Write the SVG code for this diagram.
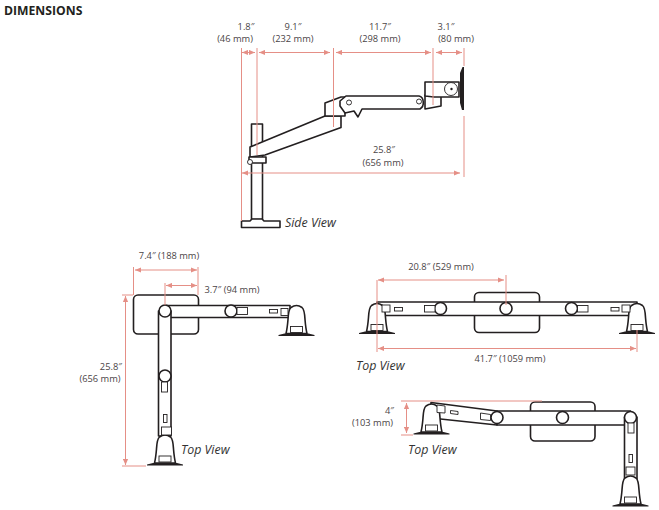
<svg xmlns="http://www.w3.org/2000/svg" xmlns:xlink="http://www.w3.org/1999/xlink" width="659" height="510" viewBox="0 0 659 510">
<style>
text{font-family:"Open Sans","Noto Sans","Liberation Sans",sans-serif;font-size:9.3px;fill:#4a4446;text-anchor:middle}
.v{font-size:12.4px;font-style:italic;fill:#333;text-anchor:start}
.e{text-anchor:end}
.a{fill:#fff;stroke:#231f20;stroke-width:1.6;stroke-linejoin:round}
.t{fill:#fff;stroke:#231f20;stroke-width:.9}
.k{fill:#231f20;stroke:none}
.d line{stroke:#e58f86;stroke-width:1}
.d .r{marker-start:url(#h);marker-end:url(#h)}
</style>
<defs>
<marker id="h" markerUnits="userSpaceOnUse" markerWidth="7" markerHeight="6" refX="6" refY="3" orient="auto-start-reverse"><path d="M0 0.4L6 3L0 5.6z" fill="#e58f86"/></marker>
<g id="clamp">
<path class="a" d="M-10.500-1C-9.500-5-9-9-8.500-15C-8.200-20-8-25-5.500-27C-2-29.500 2-29.500 5.500-27C8-25 8.200-20 8.500-15C9-9 9.500-5 10.500-1z" stroke-width="2"/>
<rect class="t" x="-6" y="-8" width="12" height="6"/>
<path class="k" d="M-18 1.500V0.500L-12-1H12L18 0.500V1.500z"/>
</g>
</defs>
<text x="4" y="15" style="font-weight:700;font-size:12.200px;fill:#231f20;text-anchor:start">DIMENSIONS</text>

<g id="side-view">
<rect class="a" x="251.500" y="124" width="11" height="95.500"/>
<path class="a" d="M241.500 227.500V221H250L252 219H262L264 221H280V227.500z"/>
<path class="a" d="M250 147L325 116H341V127.500L265 155L250 157z"/>
<path class="a" d="M249 157H266V163H249z"/>
<circle class="t" cx="250" cy="162" r="2.500"/>
<path class="a" d="M325 116V103L341 97H345V116z"/>
<path class="a" d="M346 96H419C424 97 425 106 420 109H362L358 117L354 111L345 113L340 106V101z"/>
<circle class="t" cx="349" cy="102.500" r="2.500"/>
<circle class="t" cx="419" cy="101.500" r="2.500"/>
<path class="a" d="M425 109L441 106V96L425 95z"/>
<path class="a" d="M425 82H459V97H441L434 97L425 96z"/>
<circle class="t" cx="451" cy="89" r="6.500"/>
<circle class="k" cx="451.500" cy="89" r="1.200"/>
<path class="k" d="M460 73L462.500 67H464V110H462L460 103z"/>
</g>
<g id="top-view-left">
<rect class="a" x="133.500" y="295" width="65" height="39" rx="4.500"/>
<path class="a" d="M165 305.500H290V317.500H165z"/>
<path class="a" d="M158.500 311V436H171V311z"/>
<circle class="a" cx="165" cy="311" r="6"/>
<circle class="a" cx="231" cy="311" r="6"/>
<circle class="a" cx="165" cy="376" r="6"/>
<rect class="t" x="237" y="307.500" width="10.500" height="7"/>
<rect class="t" x="161.500" y="382" width="6" height="10"/>
<rect class="t" x="269.500" y="309.500" width="8" height="3.500"/>
<rect class="t" x="163.500" y="414.500" width="3.500" height="8"/>
<use xlink:href="#clamp" x="296.500" y="334.500"/>
<use xlink:href="#clamp" x="165" y="464"/>
<rect class="t" x="281" y="308.500" width="7" height="7"/>
<rect class="t" x="161.500" y="427" width="10" height="8"/>
</g>
<g id="top-view-right">
<rect class="a" x="474.500" y="292.500" width="65" height="40" rx="4.500"/>
<path class="a" d="M377 302H637V315.500H377z"/>
<circle class="a" cx="506" cy="308.500" r="6"/>
<circle class="a" cx="440.500" cy="308.500" r="6"/>
<circle class="a" cx="571.500" cy="308.500" r="6"/>
<rect class="t" x="424.500" y="305.500" width="10.500" height="6.500"/>
<rect class="t" x="577.500" y="305.500" width="10.500" height="6.500"/>
<rect class="t" x="394.500" y="307.500" width="8" height="3.500"/>
<rect class="t" x="611" y="307.500" width="8" height="3.500"/>
<use xlink:href="#clamp" x="377" y="332.500"/>
<use xlink:href="#clamp" x="637" y="332.500"/>
<rect class="t" x="382" y="305" width="8" height="7"/>
<rect class="t" x="622" y="305" width="8" height="7"/>
</g>
<g id="top-view-angled">
<rect class="a" x="530.500" y="402" width="64.500" height="39" rx="4.500"/>
<path class="a" d="M431 402.500L497 411V425L431 418z"/>
<path class="a" d="M497 411H630.500V425H497z"/>
<path class="a" d="M624.500 417V480H637V417z"/>
<circle class="a" cx="497" cy="417.500" r="6"/>
<circle class="a" cx="562.500" cy="417.500" r="6"/>
<circle class="a" cx="630.500" cy="417.500" r="6"/>
<path class="t" d="M480.500 413L490.500 414.500V420.500L480.500 419.500z"/>
<rect class="t" x="628" y="423" width="6" height="10"/>
<path class="t" d="M450.500 410.500L458 411.500V414.500L450.500 413.500z"/>
<rect class="t" x="629" y="454.500" width="3.500" height="8"/>
<use xlink:href="#clamp" x="431.500" y="433"/>
<use xlink:href="#clamp" x="630.500" y="505"/>
<path class="t" d="M437 405L445 406V413L437 412.500z"/>
<rect class="t" x="626" y="467" width="9" height="8"/>
</g>

<g id="dimensions" class="d">
<line x1="241.500" y1="48" x2="241.500" y2="221"/>
<line x1="257" y1="48" x2="257" y2="155"/>
<line x1="333.500" y1="48" x2="333.500" y2="127"/>
<line x1="433" y1="48" x2="433" y2="105"/>
<line x1="464" y1="48" x2="464" y2="66"/>
<line x1="464" y1="116" x2="464" y2="177"/>
<line class="r" x1="242" y1="52.500" x2="255" y2="52.500"/>
<line class="r" x1="259" y1="52.500" x2="330" y2="52.500"/>
<line class="r" x1="336" y1="52.500" x2="431" y2="52.500"/>
<line class="r" x1="436" y1="52.500" x2="462" y2="52.500"/>
<line class="r" x1="242" y1="173" x2="460" y2="173"/>
<line x1="133.500" y1="267" x2="133.500" y2="295"/>
<line x1="198" y1="267" x2="198" y2="295"/>
<line x1="165" y1="283" x2="165" y2="305"/>
<line class="r" x1="135" y1="270" x2="197" y2="270"/>
<line class="r" x1="166" y1="285.500" x2="197" y2="285.500"/>
<line x1="122" y1="295" x2="133" y2="295"/>
<line x1="122" y1="466" x2="146" y2="466"/>
<line class="r" x1="125.500" y1="296" x2="125.500" y2="465"/>
<line x1="377" y1="280" x2="377" y2="352"/>
<line x1="506" y1="275" x2="506" y2="305"/>
<line x1="637" y1="330" x2="637" y2="352"/>
<line class="r" x1="378" y1="280" x2="504" y2="280"/>
<line class="r" x1="378" y1="348.500" x2="636" y2="348.500"/>
<line x1="401" y1="401" x2="542" y2="401"/>
<line x1="401" y1="435" x2="413" y2="435"/>
<line class="r" x1="406.500" y1="403" x2="406.500" y2="433"/>
</g>

<g id="labels">
<text x="246" y="30">1.8″</text><text x="235" y="42">(46 mm)</text>
<text x="293" y="30">9.1″</text><text x="293" y="42">(232 mm)</text>
<text x="380" y="30">11.7″</text><text x="380" y="42">(298 mm)</text>
<text x="446" y="30">3.1″</text><text x="456" y="42">(80 mm)</text>
<text x="384" y="153">25.8″</text><text x="383" y="166">(656 mm)</text>
<text class="v" x="285" y="227">Side View</text>
<text x="169" y="259">7.4″ (188 mm)</text>
<text x="232" y="293">3.7″ (94 mm)</text>
<text class="e" x="122" y="370">25.8″</text><text class="e" x="120.500" y="382">(656 mm)</text>
<text class="v" x="181" y="454">Top View</text>
<text x="441" y="270">20.8″ (529 mm)</text>
<text x="510" y="362">41.7″ (1059 mm)</text>
<text class="v" x="356" y="370">Top View</text>
<text class="e" x="394" y="414">4″</text><text class="e" x="393" y="426">(103 mm)</text>
<text class="v" x="408" y="454">Top View</text>
</g>
</svg>
